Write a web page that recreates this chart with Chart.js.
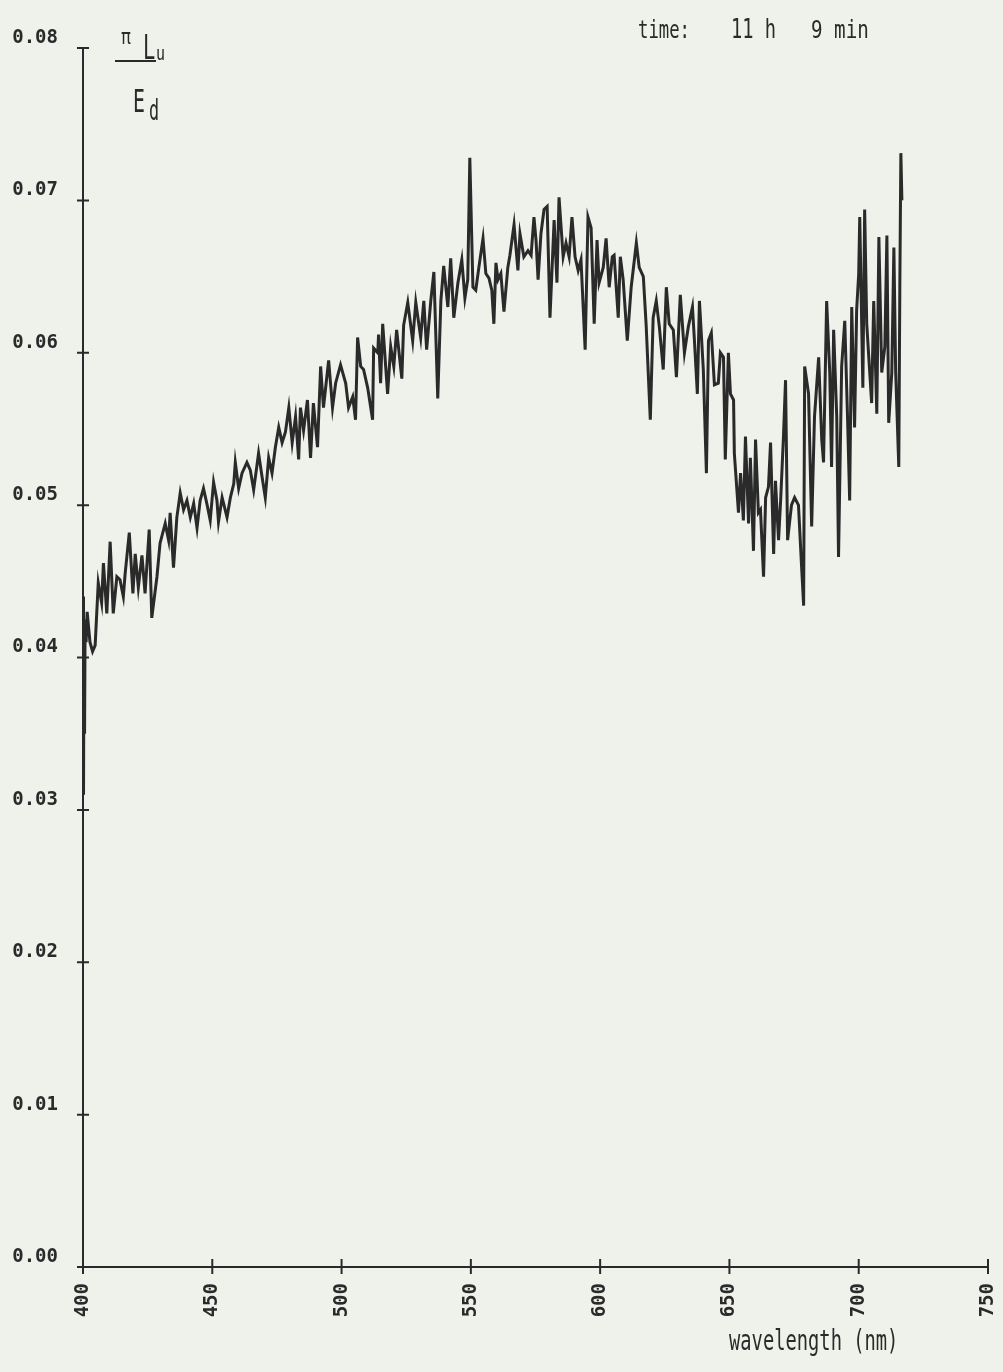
<!DOCTYPE html>
<html>
<head>
<meta charset="utf-8">
<script src="https://cdn.jsdelivr.net/npm/chart.js@4.4.0/dist/chart.umd.min.js"></script>
<style>
  html, body { margin: 0; padding: 0; background: #eff1eb; }
  #wrap { width: 1003px; height: 1372px; }
</style>
</head>
<body>
<div id="wrap"><canvas id="spectrum" width="1003" height="1372"></canvas></div>
<script>
// ---- data ----
const wavelengths = [
  400.0, 400.2, 400.4, 400.6, 400.8, 401.2, 401.6, 402.7, 403.7, 404.7,
  405.9, 407.2, 407.9, 409.2, 410.5, 411.7, 413.1, 414.3, 415.6, 416.3,
  417.9, 419.3, 420.2, 421.4, 422.8, 424.0, 425.6, 426.6, 428.6, 429.8,
  431.8, 433.1, 433.7, 435.0, 436.3, 437.6, 438.9, 440.2, 441.5, 442.8,
  444.1, 445.3, 446.6, 447.9, 449.2, 450.5, 451.8, 452.4, 453.8, 455.7,
  457.0, 458.3, 458.9, 460.2, 461.5, 463.4, 464.7, 466.0, 467.9, 469.3,
  470.5, 471.8, 473.1, 474.4, 475.7, 477.0, 478.3, 479.6, 480.9, 482.2,
  483.4, 484.1, 485.3, 486.8, 488.0, 489.1, 490.7, 491.9, 493.0, 495.0,
  496.5, 497.7, 499.6, 501.6, 502.7, 504.3, 505.4, 506.2, 507.4, 508.5,
  510.1, 512.0, 512.4, 514.0, 514.3, 515.1, 515.9, 517.8, 519.0, 520.2,
  521.3, 523.3, 524.0, 525.6, 527.5, 528.7, 530.6, 531.8, 532.9, 534.5,
  535.7, 537.2, 538.4, 539.5, 541.1, 542.2, 543.4, 545.0, 546.5, 547.7,
  548.8, 549.6, 550.8, 551.9, 553.1, 554.7, 555.8, 557.0, 558.1, 558.9,
  559.7, 560.5, 561.6, 562.8, 564.3, 565.1, 566.7, 568.2, 569.0, 570.5,
  572.1, 573.3, 574.4, 575.2, 576.0, 577.1, 578.3, 579.5, 580.6, 582.2,
  583.3, 584.1, 585.7, 586.8, 588.0, 589.1, 590.3, 591.5, 592.6, 594.2,
  595.3, 596.5, 597.7, 598.8, 599.6, 601.2, 602.3, 603.5, 604.7, 605.4,
  607.0, 607.8, 608.9, 610.5, 612.0, 614.0, 615.1, 616.7, 617.8, 619.4,
  620.5, 621.7, 622.9, 624.4, 625.6, 626.7, 628.3, 629.5, 631.0, 632.6,
  634.1, 635.7, 636.4, 637.6, 638.4, 639.9, 641.1, 641.9, 643.0, 644.2,
  645.7, 646.5, 647.7, 648.4, 649.6, 650.4, 651.6, 651.9, 653.5, 654.3,
  655.4, 656.2, 657.4, 658.1, 659.3, 660.1, 661.2, 662.0, 663.2, 664.0,
  665.1, 665.9, 667.1, 667.8, 669.0, 669.8, 670.9, 671.7, 672.5, 674.0,
  675.2, 676.7, 677.9, 678.7, 679.1, 680.6, 681.8, 682.9, 684.5, 685.7,
  686.4, 687.6, 688.8, 689.5, 690.3, 691.5, 692.2, 693.4, 694.6, 695.7,
  696.5, 697.3, 698.4, 699.2, 700.0, 700.4, 701.6, 702.3, 703.1, 703.9,
  705.0, 705.8, 707.0, 707.8, 708.9, 710.1, 710.9, 711.6, 712.8, 713.6,
  714.3, 715.5, 715.9, 716.3, 716.7
];
const ratio = [
  0.0440, 0.0310, 0.0425, 0.0350, 0.0418, 0.0410, 0.0430, 0.0410, 0.0404, 0.0408,
  0.0449, 0.0436, 0.0462, 0.0429, 0.0476, 0.0429, 0.0453, 0.0451, 0.0440, 0.0455,
  0.0482, 0.0442, 0.0468, 0.0446, 0.0467, 0.0442, 0.0484, 0.0426, 0.0453, 0.0475,
  0.0488, 0.0477, 0.0495, 0.0459, 0.0492, 0.0508, 0.0497, 0.0503, 0.0492, 0.0501,
  0.0485, 0.0503, 0.0511, 0.0501, 0.0490, 0.0515, 0.0503, 0.0489, 0.0505, 0.0492,
  0.0505, 0.0514, 0.0528, 0.0511, 0.0521, 0.0528, 0.0523, 0.0510, 0.0534, 0.0518,
  0.0505, 0.0531, 0.0521, 0.0538, 0.0551, 0.0541, 0.0548, 0.0564, 0.0541, 0.0558,
  0.0530, 0.0564, 0.0549, 0.0569, 0.0531, 0.0567, 0.0538, 0.0591, 0.0564, 0.0595,
  0.0564, 0.0580, 0.0592, 0.0580, 0.0564, 0.0571, 0.0556, 0.0610, 0.0591, 0.0589,
  0.0577, 0.0556, 0.0603, 0.0600, 0.0612, 0.0580, 0.0619, 0.0573, 0.0604, 0.0591,
  0.0615, 0.0583, 0.0618, 0.0633, 0.0608, 0.0633, 0.0610, 0.0634, 0.0602, 0.0634,
  0.0653, 0.0570, 0.0634, 0.0657, 0.0630, 0.0662, 0.0623, 0.0646, 0.0661, 0.0636,
  0.0648, 0.0728, 0.0643, 0.0641, 0.0656, 0.0675, 0.0652, 0.0649, 0.0641, 0.0619,
  0.0659, 0.0648, 0.0652, 0.0627, 0.0656, 0.0664, 0.0684, 0.0654, 0.0678, 0.0663,
  0.0667, 0.0664, 0.0689, 0.0674, 0.0648, 0.0678, 0.0694, 0.0696, 0.0623, 0.0687,
  0.0646, 0.0702, 0.0663, 0.0672, 0.0663, 0.0689, 0.0663, 0.0654, 0.0661, 0.0602,
  0.0689, 0.0682, 0.0619, 0.0674, 0.0646, 0.0656, 0.0675, 0.0643, 0.0663, 0.0664,
  0.0623, 0.0663, 0.0648, 0.0608, 0.0643, 0.0672, 0.0656, 0.0650, 0.0618, 0.0556,
  0.0623, 0.0634, 0.0617, 0.0589, 0.0643, 0.0619, 0.0615, 0.0584, 0.0638, 0.0600,
  0.0617, 0.0630, 0.0610, 0.0573, 0.0634, 0.0589, 0.0521, 0.0608, 0.0613, 0.0579,
  0.0580, 0.0600, 0.0597, 0.0530, 0.0600, 0.0573, 0.0569, 0.0534, 0.0495, 0.0521,
  0.0490, 0.0545, 0.0488, 0.0531, 0.0470, 0.0543, 0.0495, 0.0497, 0.0453, 0.0505,
  0.0512, 0.0541, 0.0468, 0.0516, 0.0477, 0.0503, 0.0545, 0.0582, 0.0477, 0.0500,
  0.0505, 0.0500, 0.0460, 0.0434, 0.0591, 0.0573, 0.0486, 0.0558, 0.0597, 0.0543,
  0.0528, 0.0634, 0.0587, 0.0525, 0.0615, 0.0558, 0.0466, 0.0591, 0.0621, 0.0556,
  0.0503, 0.0630, 0.0551, 0.0628, 0.0652, 0.0689, 0.0577, 0.0694, 0.0619, 0.0597,
  0.0567, 0.0634, 0.0560, 0.0676, 0.0587, 0.0604, 0.0677, 0.0554, 0.0587, 0.0669,
  0.0587, 0.0525, 0.0643, 0.0731, 0.0700
];
const xTickValues = [400, 450, 500, 550, 600, 650, 700, 750];
const yTickValues = [0.00, 0.01, 0.02, 0.03, 0.04, 0.05, 0.06, 0.07, 0.08];

const INK = '#2a2a2a';
const MONO = '"DejaVu Sans Mono", monospace';

// narrow plotter-like text: squeeze horizontally
function narrowText(ctx, text, x, y, size, sx, weight) {
  ctx.save();
  ctx.translate(x, y);
  ctx.scale(sx, 1);
  ctx.font = (weight || 'normal') + ' ' + size + 'px ' + MONO;
  ctx.fillStyle = INK;
  ctx.textAlign = 'left';
  ctx.textBaseline = 'alphabetic';
  ctx.fillText(text, 0, 0);
  ctx.restore();
}

// tick marks crossing the axes + annotations
const plotterDecor = {
  id: 'plotterDecor',
  afterDraw(chart) {
    const { ctx, chartArea, scales } = chart;
    ctx.save();
    ctx.strokeStyle = INK;
    ctx.lineWidth = 2;
    ctx.beginPath();
    xTickValues.forEach(v => {
      const px = scales.x.getPixelForValue(v);
      ctx.moveTo(px, chartArea.bottom - 8);
      ctx.lineTo(px, chartArea.bottom + 7);
    });
    yTickValues.forEach(v => {
      const py = scales.y.getPixelForValue(v);
      ctx.moveTo(chartArea.left - 6, py);
      ctx.lineTo(chartArea.left + 6, py);
    });
    // fraction bar of the y label
    ctx.moveTo(115, 61);
    ctx.lineTo(156, 61);
    ctx.stroke();
    ctx.restore();

    // y quantity: pi L_u / E_d
    narrowText(ctx, 'π', 121, 44, 22, 0.75);
    narrowText(ctx, 'L', 143, 59, 34, 0.6);
    narrowText(ctx, 'u', 156, 60, 20, 0.75);
    narrowText(ctx, 'E', 133, 112, 32, 0.62);
    narrowText(ctx, 'd', 149, 120, 28, 0.6);

    // time stamp
    narrowText(ctx, 'time:', 638, 38, 24, 0.72);
    narrowText(ctx, '11 h', 731, 38, 26, 0.72);
    narrowText(ctx, '9 min', 811, 38, 24, 0.8);

    // x axis title
    narrowText(ctx, 'wavelength (nm)', 729, 1350, 28, 0.67);
  }
};

new Chart(document.getElementById('spectrum'), {
  type: 'line',
  data: {
    datasets: [{
      data: wavelengths.map((w, i) => ({ x: w, y: ratio[i] })),
      borderColor: INK,
      borderWidth: 3,
      pointRadius: 0,
      tension: 0,
      fill: false
    }]
  },
  options: {
    responsive: false,
    animation: false,
    devicePixelRatio: 1,
    layout: { padding: { top: 48, right: 15, left: 0, bottom: 0 } },
    plugins: { legend: { display: false }, tooltip: { enabled: false } },
    scales: {
      x: {
        type: 'linear',
        min: 400,
        max: 750,
        afterBuildTicks: s => { s.ticks = xTickValues.map(v => ({ value: v })); },
        afterFit: s => { s.height = 105; s.paddingLeft = 0; s.paddingRight = 0; },
        grid: { display: false, drawTicks: false },
        border: { display: true, color: INK, width: 2 },
        ticks: {
          color: INK,
          minRotation: 90,
          maxRotation: 90,
          padding: 16,
          font: { family: MONO, size: 19, weight: 'bold' },
          callback: v => String(v)
        }
      },
      y: {
        type: 'linear',
        min: 0,
        max: 0.08,
        afterBuildTicks: s => { s.ticks = yTickValues.map(v => ({ value: v })); },
        afterFit: s => { s.width = 83; s.paddingTop = 0; s.paddingBottom = 0; },
        grid: { display: false, drawTicks: false },
        border: { display: true, color: INK, width: 2 },
        ticks: {
          color: INK,
          padding: 25,
          labelOffset: -10,
          font: { family: MONO, size: 19, weight: 'bold' },
          callback: v => v.toFixed(2)
        }
      }
    }
  },
  plugins: [plotterDecor]
});
</script>
</body>
</html>
